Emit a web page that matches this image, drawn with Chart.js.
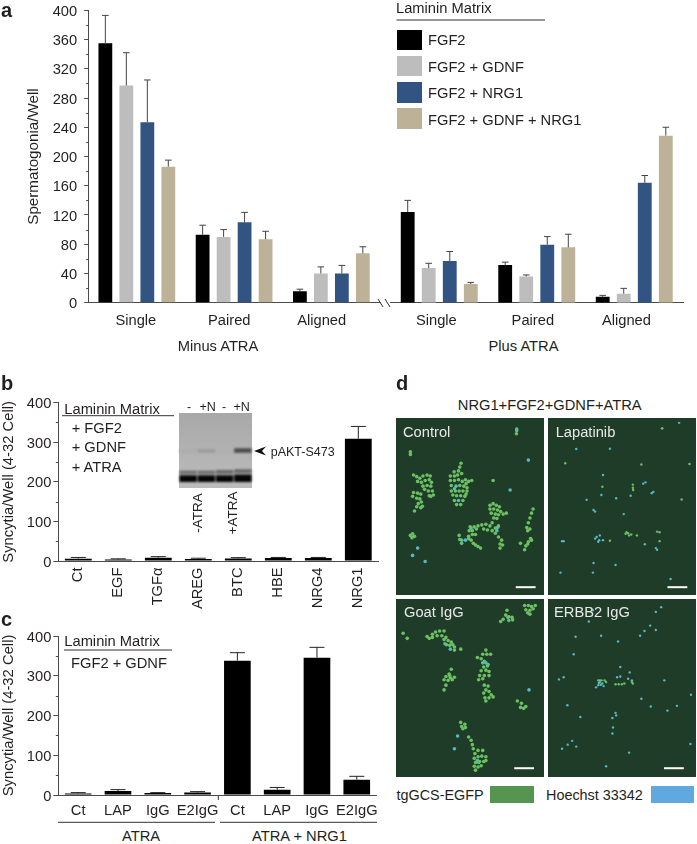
<!DOCTYPE html>
<html>
<head>
<meta charset="utf-8">
<script src="https://cdn.jsdelivr.net/npm/chart.js@4"></script>
<style>
html, body { margin: 0; padding: 0; background: #fff; }
#page { position: relative; width: 697px; height: 844px; overflow: hidden; font-family: "Liberation Sans", sans-serif; color: #231f20; }
canvas { position: absolute; }
svg { position: absolute; left: 0; top: 0; }
.note { position: absolute; white-space: nowrap; font-size: 14.7px; line-height: 1; z-index: 5; }
.swatch { position: absolute; }
</style>
</head>
<body>
<div id="page">
<svg width="697" height="844">
    <!-- rules above the insets, axis break, blot arrow -->
    <g stroke="#333" stroke-width="1" fill="none">
        <line x1="396.5" y1="20" x2="545" y2="20"/>
        <line x1="378" y1="299" x2="383" y2="307"/>
        <line x1="385" y1="299" x2="390" y2="307"/>
        <line x1="62" y1="415.7" x2="174" y2="415.7"/>
        <line x1="64" y1="650" x2="172" y2="650"/>
        <line x1="218.3" y1="795" x2="218.3" y2="800"/>
        <line x1="58" y1="822.3" x2="215" y2="822.3"/>
        <line x1="220" y1="822.3" x2="377" y2="822.3"/>
    </g>
    <polygon points="254,451 266,446.5 262,451 266,455.5" fill="#111"/>
</svg>
</div>

<script>
// panel a
const groupLabels = ['Single', 'Paired', 'Aligned'];
const fgf2 = [355, 93, 15.5, 124, 51.5, 8];
const fgf2Err = [38, 13, 3, 16, 4, 2];
const fgf2Gdnf = [297, 90, 40, 47.4, 36, 12.3];
const fgf2GdnfErr = [45, 10, 9, 6.5, 2, 7.3];
const fgf2Nrg1 = [246.7, 110, 40, 57, 79.4, 164];
const fgf2Nrg1Err = [58, 13.6, 11, 13, 11, 10];
const fgf2GdnfNrg1 = [186, 86.7, 67.5, 25.5, 75.7, 228.5];
const fgf2GdnfNrg1Err = [9, 11, 9, 2.3, 18, 11.5];

// panel b
const factorLabels = ['Ct', 'EGF', 'TGFα', 'AREG', 'BTC', 'HBE', 'NRG4', 'NRG1'];
const factorValues = [6, 3.5, 8.5, 5, 6.5, 7.5, 7.5, 309];
const factorErr = [3, 2, 2.5, 2, 2, 1.5, 1.5, 31];

// panel c
const inhibitorLabels = ['Ct', 'LAP', 'IgG', 'E2IgG', 'Ct', 'LAP', 'IgG', 'E2IgG'];
const inhibitorValues = [4, 10, 5, 6, 338, 13.5, 345.5, 38.5];
const inhibitorErr = [2, 3.5, 1, 2.5, 20, 5.5, 26, 8.5];

// blot inset
const blotLanes = ['-', '+N', '-', '+N'];
const blotLowerBand = [[8, 17], [8, 17], [8, 17], [8, 18]];
const blotUpperBand = [[19, 23], [19, 23], [19, 24], [20, 25]];
const blotPaktBand = [[47, 52], [47, 52], [47, 52], [47, 53]];

// panel d, cells
const controlGreen = [[75,295],[85,300],[95,305],[105,298],[118,295],[128,298],[88,315],[100,318],[112,312],[125,310],[132,318],[105,330],[118,328],[130,330],[135,345],[122,345],[110,340],[125,360],[138,358],[75,350],[88,352],[98,355],[72,362],[85,368],[95,370],[100,380],[90,385],[103,393],[85,395],[78,408],[98,398],[130,362],
    [226,258],[222,270],[218,282],[204,285],[192,298],[205,298],[215,295],[228,290],[240,310],[250,315],[260,312],[192,312],[205,312],[218,310],[230,315],[242,322],[195,328],[222,328],[235,330],[245,335],[195,345],[208,345],[220,345],[232,345],[245,345],[200,358],[212,360],[225,360],[238,362],[205,375],[232,375],[212,388],[225,388],[242,355],
    [403,150],[402,165],[65,222],[65,230],[65,485],[72,480],[78,488],[70,492],
    [318,390],[328,385],[338,390],[348,395],[318,402],[330,402],[342,405],[352,410],[322,415],[335,418],[345,420],[370,415],[360,418],[330,430],[340,432],
    [325,445],[318,455],[305,450],[292,452],[280,455],[268,458],[255,458],[252,470],[262,470],[275,465],[298,465],[310,468],[325,470],[335,462],[345,455],[335,478],[345,490],[355,500],[350,512],[358,515],[350,525],[262,482],[250,488],[272,482],[258,500],[250,495],[220,485],[222,498],[228,510],[265,510],[272,515],[288,525],[280,520],
    [455,402],[450,415],[445,430],[440,445],[435,460],[445,465],[438,470],[447,495],[440,505],[450,500],[415,510],[432,518],[428,530],[438,512],[328,312]];
const controlBlue = [[403,155],[210,330],[205,338],[342,460],[340,470],[258,462],[240,500],[228,500],[382,342],[440,248],[88,525],[72,548],[112,567],[218,375]];
const lapatinibGreen = [[745,325],[745,335],[746,342],[722,480],[730,478],[740,482],[733,485],[725,475],[830,503],[672,502],[758,485],[838,148],[900,372],[648,332],[530,258],[772,262],[925,260],[830,475],[822,473]];
const lapatinibBlue = [[892,130],[838,148],[565,213],[672,212],[650,295],[598,373],[645,358],[692,368],[738,360],[620,405],[625,410],[716,418],[785,318],[778,322],[805,352],[810,348],[630,490],[625,495],[638,500],[635,505],[640,485],[520,503],[525,503],[783,513],[818,525],[822,530],[620,572],[690,578],[618,602],[515,602],[865,622],[650,500]];
const goatGreen = [[428,5],[440,5],[450,8],[462,5],[432,18],[445,20],[455,15],[438,28],[445,32],
    [372,20],[368,35],[378,40],[388,42],[360,48],[352,55],[378,52],[390,50],
    [42,92],[55,108],[118,102],[125,108],[135,95],[145,88],[158,85],[172,85],[135,105],[150,100],[165,100],[178,105],[172,112],[185,115],[195,120],[200,128],[205,135],[190,130],[180,128],[205,145],[225,142],
    [305,145],[295,158],[308,158],[320,158],[278,168],[290,172],[300,180],[298,198],[310,195],[305,208],[315,212],[290,210],[300,225],[285,225],[282,238],[295,235],[315,225],
    [195,205],[188,220],[178,228],[192,232],[205,230],[172,238],[185,240],[198,238],[178,255],[172,270],[190,225],
    [300,255],[312,258],[305,270],[298,280],[315,275],[302,295],[315,295],[328,292],[322,285],[305,305],
    [405,305],[418,312],[432,322],[415,325],[425,328],
    [225,372],[238,378],[228,385],[240,388],[232,392],
    [250,418],[258,428],[262,442],[265,455],[270,470],[280,460],[295,460],[268,485],[280,480],[292,478],[305,480],[272,498],[285,495],[298,495],[268,510],[280,512],[272,522],[290,508],[305,492]];
const goatBlue = [[295,185],[305,185],[312,190],[278,492],[282,498],[375,42],[175,125],[192,142],[442,270],[215,415],[205,455]];
const erbb2Green = [[690,252],[700,252],[710,252],[718,250],[745,250],[742,245],[640,240],[655,240],[660,245],[635,240]];
const erbb2Blue = [[605,55],[618,20],[563,103],[644,100],[698,118],[835,10],[818,25],[800,68],[782,85],[768,100],[818,82],[557,158],[510,237],[525,230],[640,245],[648,250],[645,240],[652,258],[643,254],[637,248],[628,262],[635,255],[705,198],[695,230],[705,228],[735,215],[730,235],[742,240],[845,240],[772,298],[802,322],[885,320],[855,335],[930,285],[537,318],[578,355],[680,358],[690,342],[692,350],[682,388],[680,407],[538,442],[552,430],[565,448],[520,455],[733,467],[660,510],[928,440]];

const page = document.getElementById('page');
const FONT = { family: '"Liberation Sans", sans-serif', size: 14.7 };
const INK = '#231f20';
const AXIS = '#4a4a4a';
Chart.defaults.animation = false;
Chart.defaults.responsive = false;
Chart.defaults.plugins.legend.display = false;
Chart.defaults.plugins.tooltip.enabled = false;

function addCanvas(left, top, width, height) {
    const c = document.createElement('canvas');
    c.width = width;
    c.height = height;
    c.style.left = left + 'px';
    c.style.top = top + 'px';
    page.appendChild(c);
    return c;
}

function note(text, x, y, opts) {
    opts = opts || {};
    const d = document.createElement('div');
    d.className = 'note';
    d.textContent = text;
    d.style.left = x + 'px';
    d.style.top = y + 'px';
    let t = (opts.left ? 'translate(0,-50%)' : 'translate(-50%,-50%)');
    if (opts.rotate) t += ' rotate(-90deg)';
    d.style.transform = t;
    if (opts.bold) d.style.fontWeight = 'bold';
    if (opts.size) d.style.fontSize = opts.size + 'px';
    if (opts.color) d.style.color = opts.color;
    page.appendChild(d);
}

function swatch(x, y, w, h, color) {
    const d = document.createElement('div');
    d.className = 'swatch';
    d.style.cssText = `left:${x}px;top:${y}px;width:${w}px;height:${h}px;background:${color}`;
    page.appendChild(d);
}

// error bars (upper half only) and the short unlabelled y ticks
const barExtras = {
    id: 'barExtras',
    afterDatasetsDraw(chart, args, opts) {
        const ctx = chart.ctx;
        const y = chart.scales.y;
        ctx.save();
        ctx.strokeStyle = opts.color;
        ctx.lineWidth = 1;
        chart.data.datasets.forEach((ds, i) => {
            chart.getDatasetMeta(i).data.forEach((bar, j) => {
                const top = y.getPixelForValue(ds.data[j] + ds.errors[j]);
                const base = y.getPixelForValue(ds.data[j]);
                ctx.beginPath();
                ctx.moveTo(bar.x, base);
                ctx.lineTo(bar.x, top);
                ctx.moveTo(bar.x - opts.cap, top);
                ctx.lineTo(bar.x + opts.cap, top);
                ctx.stroke();
            });
        });
        if (y.options.display) {
            ctx.strokeStyle = AXIS;
            for (let v = opts.step / 2; v < y.max; v += opts.step) {
                const py = Math.round(y.getPixelForValue(v)) + 0.5;
                ctx.beginPath();
                ctx.moveTo(y.right, py);
                ctx.lineTo(y.right - opts.minor, py);
                ctx.stroke();
            }
        }
        ctx.restore();
    }
};

function yAxis(step, width, tickLen, tickPad, titleText, titleSize, titlePad, show) {
    return {
        display: show,
        min: 0,
        max: 400,
        afterFit(scale) { if (show) scale.width = width; },
        border: { color: AXIS },
        grid: { drawOnChartArea: false, tickLength: tickLen, tickColor: AXIS },
        ticks: { stepSize: step, font: FONT, color: INK, padding: tickPad, labelOffset: 1.5 },
        title: { display: true, text: titleText, font: { family: FONT.family, size: titleSize }, color: INK, padding: { top: titlePad, bottom: 0 } }
    };
}

// panel a is two charts side by side, split at the axis break
function groupedChart(canvas, from, to, tickPositions, padding, showY) {
    const series = [
        [fgf2, fgf2Err, '#000000'],
        [fgf2Gdnf, fgf2GdnfErr, '#bdbdbd'],
        [fgf2Nrg1, fgf2Nrg1Err, '#315483'],
        [fgf2GdnfNrg1, fgf2GdnfNrg1Err, '#bdb297']
    ];
    return new Chart(canvas, {
        type: 'bar',
        data: {
            labels: groupLabels,
            datasets: series.map(s => ({
                data: s[0].slice(from, to),
                errors: s[1].slice(from, to),
                backgroundColor: s[2],
                categoryPercentage: 0.863,
                barPercentage: 0.657
            }))
        },
        options: {
            layout: { padding: padding },
            plugins: { barExtras: { cap: 3.3, color: '#444', step: 40, minor: 2 } },
            scales: {
                x: { display: false },
                // labels sit slightly left of their groups in the figure
                groupAxis: {
                    axis: 'x',
                    type: 'linear',
                    position: 'bottom',
                    offset: false,
                    min: -0.5,
                    max: 2.5,
                    afterBuildTicks(scale) { scale.ticks = tickPositions.map(v => ({ value: v })); },
                    afterFit(scale) { scale.height = 27.3; },
                    border: { color: AXIS },
                    grid: { offset: false, drawOnChartArea: false, drawTicks: false },
                    ticks: {
                        autoSkip: false,
                        maxRotation: 0,
                        font: FONT,
                        color: INK,
                        padding: 9.5,
                        callback: (v, i) => groupLabels[i]
                    }
                },
                y: yAxis(40, 88.2, 4, 7, 'Spermatogonia/Well', 15.2, 25, showY)
            }
        },
        plugins: [barExtras]
    });
}

groupedChart(addCanvas(0, -10, 381, 340), 0, 3, [-0.01, 0.95, 1.9], { top: 20.3, right: 1 }, true);
groupedChart(addCanvas(390, -10, 300, 340), 3, 6, [-0.03, 0.96, 1.92], { top: 20.3, left: 0.5, right: 7 }, false);

function singleChart(canvas, labels, values, errors, xHeight, rotation, top, tickPad) {
    return new Chart(canvas, {
        type: 'bar',
        data: {
            labels: labels,
            datasets: [{
                data: values,
                errors: errors,
                backgroundColor: '#000',
                categoryPercentage: 1,
                barPercentage: 0.67
            }]
        },
        options: {
            layout: { padding: { top: top, right: 6.7 } },
            plugins: { barExtras: { cap: 7.5, color: '#222', step: 100, minor: 2.5 } },
            scales: {
                x: {
                    afterFit(scale) { scale.height = xHeight; },
                    border: { color: AXIS },
                    grid: { drawOnChartArea: false, drawTicks: false },
                    ticks: { autoSkip: false, minRotation: rotation, maxRotation: rotation, font: FONT, color: INK, padding: tickPad }
                },
                y: yAxis(100, 58.3, 5, 2, 'Syncytia/Well (4-32 Cell)', 14.8, 0, true)
            }
        },
        plugins: [barExtras]
    });
}

singleChart(addCanvas(0, 380, 385, 232), factorLabels, factorValues, factorErr, 51, 90, 22.7, 6.5);
singleChart(addCanvas(0, 614, 385, 210), inhibitorLabels, inhibitorValues, inhibitorErr, 29, 0, 22, 7);

// blot inset
swatch(179, 413, 73, 75, 'linear-gradient(#a8a8a8, #b4b4b4 60%, #bcbcbc)');
const blotCanvas = addCanvas(179, 413, 73, 75);
blotCanvas.style.filter = 'blur(1.1px)';
new Chart(blotCanvas, {
    type: 'bar',
    data: {
        labels: blotLanes,
        datasets: [
            { data: blotPaktBand, backgroundColor: ['#adadad', '#9c9c9c', '#afafaf', '#4a4a4a'] },
            { data: blotUpperBand, backgroundColor: '#666666' },
            { data: blotLowerBand, backgroundColor: '#050505' }
        ]
    },
    options: {
        datasets: { bar: { grouped: false, categoryPercentage: 1, barPercentage: 0.95 } },
        scales: {
            x: { display: false },
            y: { display: false, min: 0, max: 100 }
        }
    }
});

// panel d
function toPoints(list) {
    return list.map(p => ({ x: p[0], y: p[1] }));
}

function micrograph(left, top, width, height, xRange, yRange, green, blue, barX, barY, radius) {
    swatch(left, top, width, height, '#1f3c29');
    const c = addCanvas(left, top, width, height);
    c.style.filter = 'blur(0.35px)';
    new Chart(c, {
        type: 'scatter',
        data: {
            datasets: [
                { data: toPoints(green), backgroundColor: '#6cc062', pointRadius: radius, borderWidth: 0 },
                { data: toPoints(blue), backgroundColor: '#58b9c4', pointRadius: radius, borderWidth: 0 },
                { data: toPoints([[barX[0], barY], [barX[1], barY]]), showLine: true, borderColor: '#fff', borderWidth: 2, pointRadius: 0 }
            ]
        },
        options: {
            scales: {
                x: { display: false, min: xRange[0], max: xRange[1] },
                y: { display: false, min: yRange[0], max: yRange[1], reverse: true }
            }
        }
    });
}

micrograph(396, 418, 148, 177, [32, 477], [128, 660], controlGreen, controlBlue, [400, 463], 648, 1.8);
micrograph(548, 418, 148, 177, [488, 933], [128, 660], lapatinibGreen, lapatinibBlue, [855, 918], 648, 1.2);
micrograph(396, 599, 148, 178, [32, 477], [-3, 531], goatGreen, goatBlue, [395, 458], 516, 1.8);
micrograph(548, 599, 148, 178, [488, 933], [-3, 531], erbb2Green, erbb2Blue, [844, 907], 516, 1.2);

// panel letters
note('a', 1, 10, { left: true, bold: true, size: 20 });
note('b', 1, 383, { left: true, bold: true, size: 20 });
note('c', 1, 619, { left: true, bold: true, size: 20 });
note('d', 396, 383, { left: true, bold: true, size: 20 });

// panel a text and legend
note('Minus ATRA', 218, 346);
note('Plus ATRA', 523.5, 346);
note('Laminin Matrix', 396, 7.5, { left: true });
const legendLabels = ['FGF2', 'FGF2 + GDNF', 'FGF2 + NRG1', 'FGF2 + GDNF + NRG1'];
const legendColors = ['#000000', '#bdbdbd', '#315483', '#bdb297'];
legendLabels.forEach((label, i) => {
    swatch(397, 29.5 + i * 26.3, 24.5, 20.5, legendColors[i]);
    note(label, 428, 40 + i * 26.6, { left: true });
});

// panel b text
note('Laminin Matrix', 64.3, 408.7, { left: true });
note('+ FGF2', 71.7, 428, { left: true });
note('+ GDNF', 71.7, 447.3, { left: true });
note('+ ATRA', 71.7, 466.7, { left: true });
note('-', 189, 406.7, { size: 12.5 });
note('+N', 207.7, 406.7, { size: 12.5 });
note('-', 224, 406.7, { size: 12.5 });
note('+N', 241.7, 406.7, { size: 12.5 });
note('-ATRA', 198, 513, { rotate: true, size: 13.5 });
note('+ATRA', 233, 513, { rotate: true, size: 13.5 });
note('pAKT-S473', 270.7, 451.5, { left: true, size: 12.5 });

// panel c text
note('Laminin Matrix', 64.3, 640.7, { left: true });
note('FGF2 + GDNF', 119, 663.3);
note('ATRA', 141, 836);
note('ATRA + NRG1', 299.5, 836);

// panel d text
note('NRG1+FGF2+GDNF+ATRA', 549.7, 405);
note('Control', 403, 431.7, { left: true, color: '#e8e8e8' });
note('Lapatinib', 555.7, 431.7, { left: true, color: '#e8e8e8' });
note('Goat IgG', 404, 612.3, { left: true, color: '#e8e8e8' });
note('ERBB2 IgG', 554, 612.3, { left: true, color: '#e8e8e8' });
note('tgGCS-EGFP', 396.5, 794.5, { left: true, size: 14.4 });
swatch(490, 786, 43.5, 17, '#55954f');
note('Hoechst 33342', 546, 794.5, { left: true, size: 14.4 });
swatch(650.7, 786, 43.5, 17, '#60a8e0');
</script>
</body>
</html>
